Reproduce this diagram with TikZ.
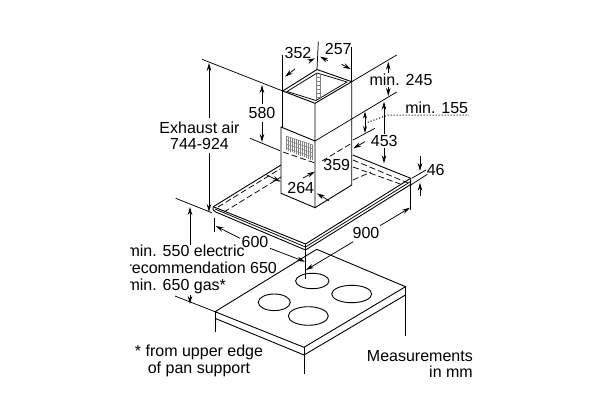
\documentclass[tikz,border=0pt]{standalone}
\usepackage{fontspec}
\setmainfont{Liberation Sans}
\usetikzlibrary{arrows.meta}
\tikzset{
every node/.style={ % Sets the text size for each label
font=\fontsize{16}{18}\selectfont,
inner sep=0pt},
edge line/.style={line width=0.9pt},
ext line/.style={line width=0.75pt},
hidden line/.style={line width=0.75pt, dash pattern=on 6pt off 3pt},
dim tip/.style={line width=0.75pt, -{Stealth[length=8pt,width=4.5pt]}},
dim both/.style={line width=0.75pt, {Stealth[length=7pt,width=4pt]}-{Stealth[length=7pt,width=4pt]}}}
\begin{document}
\begin{tikzpicture}[x=1pt,y=-1pt]
\useasboundingbox (0,0) rectangle (600,420);
% duct corners
\coordinate (topL) at (282.7,91);
\coordinate (topB) at (317,69.5);
\coordinate (topR) at (351.7,81.7);
\coordinate (topF) at (315,103.3);
\coordinate (midL) at (281,127);
\coordinate (midF) at (315,141);
\coordinate (botL) at (281,193.3);
\coordinate (botF) at (315,207.7);
\coordinate (botR) at (351.7,185);
% canopy corners
\coordinate (hoodL) at (213.3,206.7);
\coordinate (hoodF) at (305.5,244);
\coordinate (hoodR) at (410.7,178.3);
% cooktop corners
\coordinate (hobL) at (215,311.7);
\coordinate (hobB) at (316.7,249.3);
\coordinate (hobR) at (405.5,286.7);
\coordinate (hobF) at (304,347.3);
% duct
\draw[edge line] (topL) -- (topB) -- (topR) -- (topF) -- cycle;
\draw[edge line] (topL) -- (282.7,127);
\draw[edge line] (topF) -- (botF) -- (botL) -- (midL) -- (midF);
\draw[edge line] (topR) -- (botR) -- (botF);
\draw[ext line] (287,91.5) -- (317,73) -- (347,82) -- (316,100.5) -- cycle;
\draw[ext line, gray] (316.5,74) -- (316.5,100);
\draw[ext line, gray] (320,75) -- (320,99);
\foreach \y in {77,81,...,97}
  \draw[ext line, gray] (316.5,\y) -- (320,\y);
% grille
\foreach \x in {0,2,...,26}
  \draw[line width=0.5pt, gray] (286+\x,136+0.34*\x) -- (286+\x,150+0.4*\x);
\foreach \y in {0,4,8,12}
  \draw[line width=0.5pt, gray] (286,136+\y) -- (313,145+\y);
\draw[hidden line] (283,152) -- (315,163);
\draw[hidden line] (322,161) -- (352,143);
% canopy
\draw[edge line] (hoodL) -- (281,165);
\draw[edge line] (352.7,155) -- (hoodR);
\draw[edge line] (hoodL) -- (hoodF) -- (hoodR);
\draw[edge line] (hoodL) .. controls (212,209) and (213,211) .. (215.7,212) -- (305.5,250) -- (410.7,184.5) -- (hoodR);
\draw[ext line] (215,209) -- (305.5,247) -- (410.7,181.5);
\draw[ext line] (hoodF) -- (305.5,275);
\draw[ext line] (410.7,180) -- (410.7,210);
\draw[hidden line] (218,207) -- (280,169);
\draw[hidden line] (224,212) -- (281,177);
\draw[hidden line] (353,160) -- (408,183);
\draw[hidden line] (353,167) -- (403,185);
\draw[hidden line] (353,180) -- (371,172);
% cooktop
\draw[edge line] (hobL) -- (hobB) -- (hobR) -- (hobF) -- cycle;
\draw[edge line] (215,318.3) -- (304,355) -- (405.5,295);
\draw[ext line] (hobL) -- (215,331.7);
\draw[ext line] (hobF) -- (304,374);
\draw[ext line] (hobR) -- (405.5,336);
\draw[edge line] (312.3,281) ellipse (16.7 and 7.7);
\draw[edge line] (274.3,302.3) ellipse (16 and 8.3);
\draw[edge line] (308.3,316) ellipse (20 and 9.3);
\draw[edge line] (351.7,294) ellipse (20 and 8.7);
\draw[ext line] (305.5,275) -- (305.5,279);
% extension lines
\draw[ext line] (202,59.3) -- (topL);
\draw[ext line] (250,138.3) -- (280,150.7);
\draw[ext line] (175.7,198.3) -- (211.7,212.7);
\draw[ext line] (175,296) -- (hobL);
\draw[ext line] (282.7,55) -- (topL);
\draw[ext line] (318.3,41.7) -- (topB);
\draw[ext line] (351.7,46.7) -- (topR);
\draw[ext line] (topR) -- (396.7,55);
\draw[ext line] (midF) -- (396.7,92);
\draw[ext line] (353,140) -- (375,128.3);
\draw[ext line] (411.7,178.3) -- (426,170);
\draw[ext line] (410.7,185) -- (427.3,174.3);
\draw[ext line] (214,218.3) -- (214,232.3);
% dimensions
\node (exhaust) at (199.5,128) {Exhaust air};
\node (exhaustval) at (199.5,144) {744-924};
\draw[dim tip] (209,118) -- (209,63);
\draw[dim tip] (209,153) -- (209,212);
\node (d580) at (262,113) {580};
\draw[dim tip] (262,104) -- (262,85);
\draw[dim tip] (262,122) -- (262,142);
\node (d352) at (298,53.3) {352};
\draw[dim tip] (295,69) -- (285,76.7);
\draw[dim tip] (310,60.7) -- (315,58.3);
\node (d257) at (338.3,49) {257};
\draw[dim tip] (328,60.7) -- (320,56.7);
\draw[dim tip] (341.7,64.3) -- (351,69.3);
\node (d245) at (401,80) {min. 245};
\draw[dim tip] (388.3,73) -- (388.3,61.7);
\draw[dim tip] (388.3,86.7) -- (388.3,96);
\node (d155) at (436.7,107.3) {min. 155};
\draw[line width=1pt, dotted] (365,123.3) -- (388.3,115) -- (469,115);
\draw[dim both] (365,111.7) -- (365,133);
\node (d453) at (384.3,141) {453};
\draw[dim tip] (384,134) -- (384,101.7);
\draw[dim tip] (384,148) -- (384,163.3);
\node (d46) at (435.7,170) {46};
\draw[dim tip] (420,156) -- (420,171);
\draw[dim tip] (420,195.7) -- (420,182.7);
\node (d359) at (336.7,165) {359};
\draw[dim tip] (365,141.7) -- (353.3,148.3);
\draw[dim tip] (329,200.7) -- (316.7,193.3);
\node (d264) at (300.7,188) {264};
\draw[dim tip] (303,178) -- (315,171.7);
\draw[dim tip] (266.7,175) -- (280.7,181.7);
\node (d600) at (255,242.3) {600};
\draw[dim tip] (240,238.3) -- (215.7,226);
\draw[dim tip] (270,248.3) -- (305,261.7);
\node (d900) at (366,233.3) {900};
\draw[dim tip] (380,225.7) -- (410,207.7);
\draw[dim tip] (353.3,241.7) -- (306,270);
\draw[dim tip] (190,245) -- (190,207);
\draw[dim tip] (190,295) -- (190,304);
% text cut off at the left
\begin{scope}
\clip (130,240) rectangle (300,296);
\node[anchor=base west] (hgt1) at (126.4,256.5) {min. 550 electric};
\node[anchor=base west] (hgt2) at (126.4,273.5) {recommendation 650};
\node[anchor=base west] (hgt3) at (126.4,290.5) {min. 650 gas*};
\end{scope}
\node (note1) at (199,352) {* from upper edge};
\node (note2) at (199,369) {of pan support};
\node[anchor=east] (unit1) at (473,356) {Measurements};
\node[anchor=east] (unit2) at (473,372) {in mm};
\end{tikzpicture}
\end{document}
